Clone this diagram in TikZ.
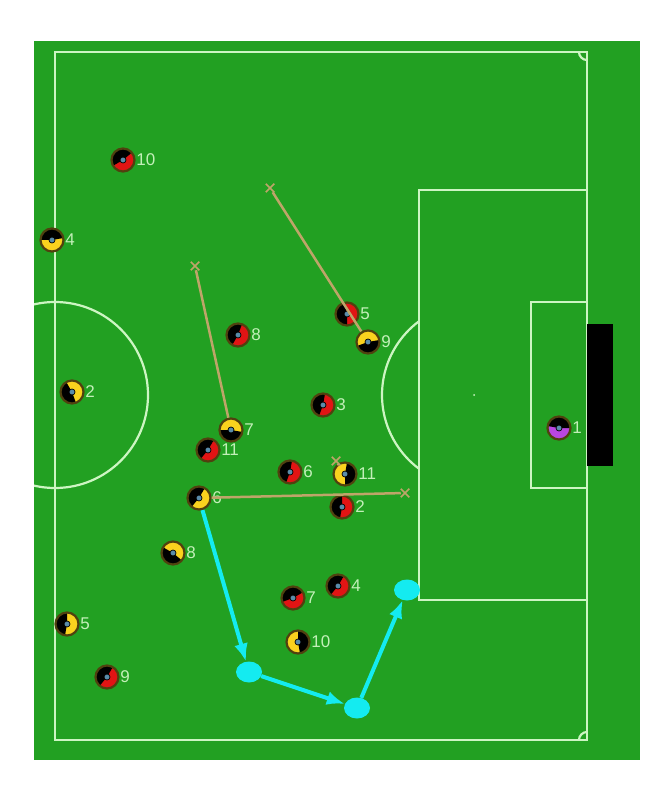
\documentclass[tikz,border=0pt]{standalone}
\usepackage{fontspec}
\setsansfont{Liberation Sans}
\usetikzlibrary{arrows.meta,positioning,shapes.geometric,shapes.misc}

\definecolor{grass}{RGB}{34,160,34}
\definecolor{chalk}{RGB}{205,245,195}
\definecolor{plred}{RGB}{225,20,20}
\definecolor{plyellow}{RGB}{250,210,30}
\definecolor{plpurple}{RGB}{185,70,225}
\definecolor{plrim}{RGB}{80,65,15}
\definecolor{hubblue}{RGB}{90,140,170}
\definecolor{runline}{RGB}{190,165,105}
\definecolor{passcyan}{RGB}{20,235,240}
\definecolor{numgreen}{RGB}{195,240,185}

\tikzset{
  plr/.style={circle, draw=plrim, line width=2.2pt, minimum size=23pt, inner sep=0pt},
  wedge/.style={path picture={
      \fill[black] (path picture bounding box.center) -- ++(#1:14pt)
        arc[start angle=#1, delta angle=170, radius=14pt] -- cycle;
      \draw[black, line width=1.2pt] (path picture bounding box.center) -- ++(#1+120:11pt);
      \fill[hubblue, draw=black, line width=0.7pt] (path picture bounding box.center) circle[radius=3pt];}},
  redp/.style={plr, fill=plred, wedge=#1},
  yelp/.style={plr, fill=plyellow, wedge=#1},
  keeper/.style={plr, fill=plpurple, wedge=#1},
  every label/.style={text=numgreen, font=\sffamily\fontsize{17}{17}\selectfont, inner sep=0.5pt},
  pitchline/.style={draw=chalk, line width=2.2pt},
  target/.style={cross out, draw=runline, line width=1.5pt, minimum size=7pt, inner sep=0pt},
  run/.style={draw=runline, line width=2.5pt},
  spot/.style={ellipse, fill=passcyan, minimum width=26pt, minimum height=21pt, inner sep=0pt},
  pass/.style={draw=passcyan, line width=4pt, -{Latex[length=18pt,width=14pt]}},
}

\begin{document}
\begin{tikzpicture}[x=1pt,y=-1pt]
  \useasboundingbox (0,0) rectangle (669,791);

  % pitch
  \fill[grass] (34,41) rectangle (640,760);
  \draw[pitchline] (55,52) rectangle (587,740);
  \draw[pitchline] (419,190) rectangle (587,600);
  \draw[pitchline] (531,302) rectangle (587,488);
  \begin{scope}
    \clip (34,41) rectangle (419,760);
    \draw[pitchline] (55,395) circle[radius=93];
    \draw[pitchline] (474,395) circle[radius=92];
  \end{scope}
  \fill[chalk] (474,395) circle[radius=1pt];
  \begin{scope}
    \clip (55,52) rectangle (587,740);
    \draw[pitchline] (587,52) circle[radius=8];
    \draw[pitchline] (587,740) circle[radius=8];
  \end{scope}
  \fill[black] (587,324) rectangle (613,466);

  % red team
  \node[redp=40, label=right:10] (r10) at (123,160) {};
  \node[redp=70, label=right:8] (r8) at (238,335) {};
  \node[redp=100, label=right:5] (r5) at (347,314) {};
  \node[redp=80, label=right:3] (r3) at (323,405) {};
  \node[redp=60, label=right:11] (r11) at (208,450) {};
  \node[redp=80, label=right:6] (r6) at (290,472) {};
  \node[redp=90, label=right:2] (r2) at (342,507) {};
  \node[redp=30, label=right:7] (r7) at (293,598) {};
  \node[redp=60, label=right:4] (r4) at (338,586) {};
  \node[redp=60, label=right:9] (r9) at (107,677) {};

  % yellow team
  \node[yelp=10, label=right:4] (y4) at (52,240) {};
  \node[yelp=120, label=right:2] (y2) at (72,392) {};
  \node[yelp=200, label=right:9] (y9) at (368,342) {};
  \node[yelp=180, label=right:7] (y7) at (231,430) {};
  \node[yelp=270, label=right:11] (y11) at (345,474) {};
  \node[yelp=60, label=right:6] (y6) at (199,498) {};
  \node[yelp=150, label=right:8] (y8) at (173,553) {};
  \node[yelp=90, label=right:5] (y5) at (67,624) {};
  \node[yelp=280, label=right:10] (y10) at (298,642) {};

  % keeper
  \node[keeper=0, label=right:1] (gk) at (559,428) {};

  % runs
  \node[target] (t9) at (270,188) {};
  \node[target] (t7) at (195,266) {};
  \node[target] (t6) at (405,493) {};
  \node[target] (t11) at (336,461) {};
  \draw[run] (y9) -- (t9);
  \draw[run] (y7) -- (t7);
  \draw[run] (y6) -- (t6);
  \draw[run] (y11) -- (t11);

  % passes
  \node[spot] (p1) at (249,672) {};
  \node[spot] (p2) at (357,708) {};
  \node[spot] (p3) at (407,590) {};
  \draw[pass] (y6) -- (p1);
  \draw[pass] (p1) -- (p2);
  \draw[pass] (p2) -- (p3);
\end{tikzpicture}
\end{document}
